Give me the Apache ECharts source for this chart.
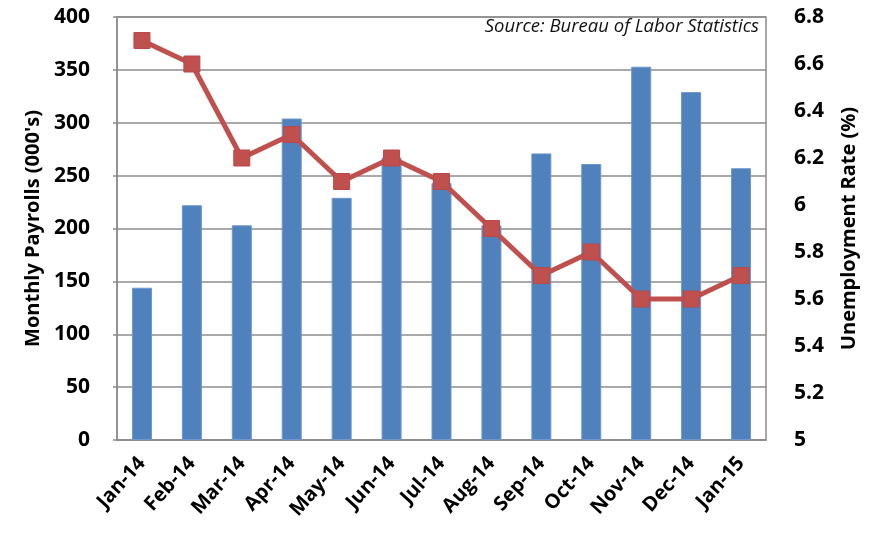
<!DOCTYPE html>
<html><head><meta charset="utf-8">
<script src="https://cdn.jsdelivr.net/npm/echarts@6/dist/echarts.min.js"></script>
<style>html,body{margin:0;padding:0;background:#fff}#c{width:878px;height:539px}</style>
</head><body><div id="c"></div>
<script>
const categories = ['Jan-14','Feb-14','Mar-14','Apr-14','May-14','Jun-14','Jul-14','Aug-14','Sep-14','Oct-14','Nov-14','Dec-14','Jan-15'];
const payrolls = [144, 222, 203, 304, 229, 267, 243, 203, 271, 261, 353, 329, 257];
const unemployment = [6.7, 6.6, 6.2, 6.3, 6.1, 6.2, 6.1, 5.9, 5.7, 5.8, 5.6, 5.6, 5.7];
const leftTicks = {min: 0, max: 400, interval: 50};
const rightTicks = {min: 5, max: 6.8, interval: 0.2};

const FONT = '"Open Sans", "Noto Sans", sans-serif';
const chart = echarts.init(document.getElementById('c'));
chart.setOption({
  animation: false,
  grid: {left: 117, right: 112, top: 17, bottom: 99, show: true, borderColor: '#8c8c8c', borderWidth: 1.5},
  graphic: [{
    type: 'text', right: 119, top: 17,
    style: {text: 'Source: Bureau of Labor Statistics', font: 'italic 18.5px ' + FONT, fill: '#111', textAlign: 'right'}
  }],
  xAxis: {
    type: 'category', data: categories,
    axisLine: {lineStyle: {color: '#8c8c8c', width: 1.5}},
    axisTick: {show: false},
    axisLabel: {rotate: 48, color: '#000', fontWeight: 'bold', fontSize: 20, fontFamily: FONT, margin: 20, interval: 0}
  },
  yAxis: [{
    type: 'value', min: leftTicks.min, max: leftTicks.max, interval: leftTicks.interval,
    name: "Monthly Payrolls (000's)", nameLocation: 'middle', nameGap: 70, nameRotate: 90,
    nameTextStyle: {color: '#000', fontWeight: 'bold', fontSize: 20, fontFamily: FONT},
    axisLine: {show: true, lineStyle: {color: '#8c8c8c', width: 1.5}},
    axisTick: {show: true, length: 4, lineStyle: {color: '#8c8c8c', width: 1.5}},
    axisLabel: {color: '#000', fontWeight: 'bold', fontSize: 21, fontFamily: FONT, margin: 27},
    splitLine: {lineStyle: {color: '#8c8c8c', width: 1.5}}
  }, {
    type: 'value', min: rightTicks.min, max: rightTicks.max, interval: rightTicks.interval,
    name: 'Unemployment Rate (%)', nameLocation: 'middle', nameGap: 73, nameRotate: 90,
    nameTextStyle: {color: '#000', fontWeight: 'bold', fontSize: 20, fontFamily: FONT},
    axisLine: {show: false}, axisTick: {show: false},
    axisLabel: {color: '#000', fontWeight: 'bold', fontSize: 21, fontFamily: FONT, margin: 28,
      formatter: v => String(Math.round(v * 10) / 10)},
    splitLine: {show: false}
  }],
  series: [{
    type: 'bar', data: payrolls, yAxisIndex: 0, barWidth: 20,
    itemStyle: {color: '#4F81BD', borderColor: '#6f97cc', borderWidth: 1}
  }, {
    type: 'line', data: unemployment, yAxisIndex: 1,
    symbol: 'rect', symbolSize: 16,
    lineStyle: {color: '#C0504D', width: 5},
    itemStyle: {color: '#C0504D', borderColor: '#B9484A', borderWidth: 1}
  }]
});
</script></body></html>
